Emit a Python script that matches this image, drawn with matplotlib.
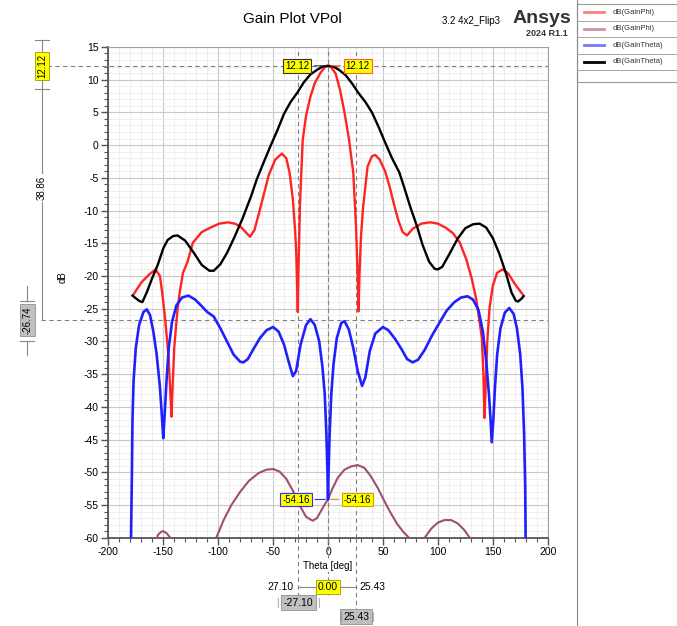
import numpy as np
import matplotlib
matplotlib.use("Agg")
import matplotlib.pyplot as plt
import matplotlib.transforms as mtransforms
from matplotlib.ticker import MultipleLocator

plt.rcParams['font.family'] = ['Liberation Sans', 'DejaVu Sans']
plt.rcParams['axes.unicode_minus'] = False

# dB(GainPhi) - co-pol, red
phi_theta = [-177, -170, -163, -160, -157, -153, -151, -148, -145, -143.5, -142.5, -141.5, -140, -137,
             -135, -132, -128, -123, -115, -107, -99, -91, -85, -80, -75, -71, -67, -63, -59, -54,
             -48, -42, -38, -35, -32, -30, -29, -28, -27.5, -27, -26.4, -25.5, -24, -23, -20, -16,
             -12, -7, -3, 0, 3, 7, 11, 15, 19, 23, 25.5, 27, 27.8, 28.6, 30, 32, 36, 40, 43, 47,
             52, 56, 60, 64, 68, 72, 77, 85, 93, 100, 107, 114, 120, 126, 131, 135, 138, 140,
             141.5, 142.5, 143.5, 145, 147, 150, 154, 159, 164, 170, 178]
phi_db = [-22.8, -21.0, -19.8, -19.4, -19.0, -20.0, -22.5, -27.0, -32.7, -38.0, -41.5, -37.0, -31.0, -25.1,
          -22.5, -19.5, -17.9, -14.9, -13.3, -12.6, -12.0, -11.8, -12.0, -12.4, -13.3, -14.0, -13.0, -10.5, -7.9, -4.6,
          -2.2, -1.3, -2.0, -4.2, -8.3, -13.0, -16.0, -22.0, -25.5, -20.0, -15.5, -9.0, -3.0, 0.8, 4.5, 7.4,
          9.5, 11.0, 11.9, 12.12, 11.9, 10.9, 8.4, 5.0, 1.0, -4.2, -12.4, -20.0, -25.4, -20.0, -14.0, -9.4, -3.3, -1.7, -1.5, -2.2,
          -4.0, -6.3, -9.0, -11.5, -13.3, -13.8, -12.8, -12.0, -11.8, -12.0, -12.6, -13.5, -14.9, -17.5, -20.5, -23.6, -27.0, -29.4,
          -35.0, -41.7, -37.0, -30.0, -25.0, -21.5, -19.5, -19.0, -19.6, -21.2, -23.0]

# dB(GainPhi) - cross, brown
phi2_theta = [-157, -155, -152, -150, -147, -144, -142, np.nan,
              -104, -101, -95, -88, -80, -72, -63, -56, -50, -44, -38, -32, -26, -20, -14, -10, -6, -3,
              0, 4, 9, 15, 21, 27, 33, 39, 45, 51, 57, 63, 69, 75, 77, np.nan,
              86, 88, 94, 100, 106, 112, 118, 124, 129, 131]
phi2_db = [-61, -59.6, -59.1, -59.0, -59.3, -59.9, -61, np.nan,
           -61, -59.7, -57.3, -55.0, -53.0, -51.3, -50.1, -49.6, -49.5, -49.9, -51.0, -52.8, -55.0, -56.8, -57.4, -57.0, -55.8, -54.9,
           -54.16, -52.5, -50.8, -49.6, -49.1, -48.9, -49.3, -50.6, -52.3, -54.3, -56.2, -57.9, -59.2, -60.2, -61, np.nan,
           -61, -60.0, -58.6, -57.7, -57.3, -57.3, -57.8, -58.8, -60.0, -61]

# dB(GainTheta) - blue
th_theta = [-179.5, -178.5, -178, -177, -175, -172, -168, -165, -162, -159, -156, -153, -151, -150, -149, -147,
            -145, -142, -138, -133, -127, -121, -115, -110, -104, -98, -92, -86, -80, -77, -73, -68, -62, -56,
            -50, -45, -40, -36, -32, -29, -25, -20, -16, -12, -8, -5, -3, -1.5, -0.5, 0, 0.5, 1.5, 3, 5, 8,
            12, 15, 19, 23, 27, 31, 34, 38, 43, 50, 55, 61, 67, 72, 77, 82, 88, 95, 102, 108, 115, 121, 127,
            132, 137, 141, 144, 146.5, 148, 149, 150.5, 152, 154, 157, 161, 165, 169, 172, 175, 177, 178.5,
            179.5, 180]
th_db = [-62, -50, -42, -36, -31, -27.5, -25.5, -25.1, -26.0, -28.5, -32.0, -37.0, -42.0, -44.8, -42.0, -36.0,
         -31.0, -27.0, -24.5, -23.3, -23.0, -23.6, -24.6, -25.5, -26.2, -28.0, -30.0, -32.0, -33.1, -33.2, -32.7, -31.2, -29.5, -28.3,
         -27.8, -28.5, -30.5, -33.0, -35.3, -34.5, -30.5, -27.5, -26.6, -27.5, -30.0, -34.0, -38.0, -44.0, -50.0, -54.16, -50.0, -44.0, -38.0, -33.5, -29.5,
         -27.2, -26.9, -28.2, -31.0, -34.5, -36.8, -35.5, -31.5, -28.8, -27.8, -28.3, -29.6, -31.2, -32.7, -33.2, -32.8, -31.3, -29.0, -27.0, -25.3, -24.0, -23.3, -23.1,
         -23.6, -25.2, -28.5, -33.0, -38.0, -42.0, -45.4, -42.0, -37.0, -32.0, -28.0, -25.6, -24.9, -25.8, -28.0, -32.0, -37.0, -44.0,
         -52.0, -62]

# dB(GainTheta) - black
th2_theta = [-178, -172, -169, -165, -160, -155, -150, -146, -141, -137, -130, -122, -115, -108, -104, -98, -92, -85,
             -78, -70, -65, -58, -52, -46, -40, -34, -28, -22, -16, -10, -5, 0, 5, 10, 16, 22, 28, 34, 40,
             46, 52, 58, 65, 70, 75, 81, 86, 92, 97, 100, 104, 110, 118, 125, 132, 138, 144, 150, 156, 162,
             167, 171, 173, 176, 178]
th2_db = [-23.0, -23.8, -24.0, -22.5, -20.3, -18.3, -15.8, -14.5, -13.9, -13.8, -14.6, -16.5, -18.3, -19.2, -19.2, -18.2, -16.5, -14.0,
          -11.3, -7.8, -5.3, -2.4, 0.0, 2.3, 4.8, 6.6, 8.0, 9.6, 10.8, 11.5, 12.0, 12.12, 12.0, 11.5, 10.7, 9.4, 7.9, 6.6, 5.0,
          2.8, 0.4, -1.9, -4.2, -6.8, -9.5, -12.4, -15.2, -17.8, -18.9, -19.0, -18.6, -16.8, -14.3, -12.7, -12.1, -12.0, -12.6, -14.2, -16.6, -19.6,
          -22.5, -23.8, -23.9, -23.5, -23.1]

labels = ["dB(GainPhi)", "dB(GainPhi)", "dB(GainTheta)", "dB(GainTheta)"]
colors = ["#ff2424", "#a0506a", "#2020ff", "#000000"]

fig = plt.figure(figsize=(6.77, 6.26), dpi=100)
ax = fig.add_axes([0.160, 0.141, 0.649, 0.784])

ax.plot(phi_theta, phi_db, color=colors[0], lw=1.7, zorder=4)
ax.plot(phi2_theta, phi2_db, color=colors[1], lw=1.5, zorder=3)
ax.plot(th_theta, th_db, color=colors[2], lw=1.9, zorder=5)
ax.plot(th2_theta, th2_db, color=colors[3], lw=1.7, zorder=4)

ax.set_xlim(-200, 200)
ax.set_ylim(-60, 15)
ax.xaxis.set_major_locator(MultipleLocator(50))
ax.xaxis.set_minor_locator(MultipleLocator(10))
ax.yaxis.set_major_locator(MultipleLocator(5))
ax.yaxis.set_minor_locator(MultipleLocator(1))
ax.grid(which='major', color='#c8c8c8', lw=0.8)
ax.grid(which='minor', color='#ececec', lw=0.6)
ax.set_axisbelow(True)
ax.tick_params(which='major', direction='out', length=5, width=1, color='#555555', labelsize=7.5, pad=2)
ax.tick_params(which='minor', direction='out', length=3, width=0.8, color='#555555')
for s in ['left', 'bottom']:
    ax.spines[s].set_color('#555555')
    ax.spines[s].set_linewidth(1.3)
for s in ['top', 'right']:
    ax.spines[s].set_color('#a0a0a0')
    ax.spines[s].set_linewidth(0.8)
ax.set_ylabel("dB", fontsize=7, labelpad=8)
ax.yaxis.set_label_coords(-0.093, 0.53)

# titles
fig.text(0.432, 0.970, "Gain Plot VPol", fontsize=11, ha='center', va='center')
fig.text(0.695, 0.966, "3.2 4x2_Flip3", fontsize=7, ha='center', va='center')
fig.text(0.800, 0.970, "Ansys", fontsize=14, fontweight='bold', ha='center', va='center', color='#333333')
fig.text(0.838, 0.947, "2024 R1.1", fontsize=6.5, fontweight='bold', ha='right', va='center', color='#333333')

# legend panel
fig.add_artist(plt.Line2D([0.853, 0.853], [0, 1], transform=fig.transFigure, color='#888888', lw=0.8))
row_h = 16.5 / 626
top = 1 - 4 / 626
fig.add_artist(plt.Rectangle((0.853, top - 4.7 * row_h), 0.2, 4.7 * row_h, transform=fig.transFigure,
                             fill=False, ec='#999999', lw=0.8))
for i, (lab, c) in enumerate(zip(labels, colors)):
    yc = top - (i + 0.5) * row_h
    fig.add_artist(plt.Line2D([0.862, 0.892], [yc, yc], transform=fig.transFigure, color=c, lw=2, alpha=0.6 if i < 3 else 1))
    fig.text(0.905, yc, lab, fontsize=5.5, va='center', ha='left', color='#333333')
    fig.add_artist(plt.Line2D([0.853, 1.0], [yc - 0.5 * row_h] * 2, transform=fig.transFigure, color='#999999', lw=0.6))

# marker lines inside the plot
dash = dict(color='#808080', lw=0.8, ls=(0, (4, 3)))
for xv in [-27.1, 0, 25.43]:
    ax.axvline(xv, **dash, zorder=2)

# left y markers
tl = mtransforms.blended_transform_factory(fig.transFigure, ax.transData)
ax.plot([0.070, 0.809], [12.12, 12.12], transform=tl, clip_on=False, **dash, zorder=2)
ax.plot([0.060, 0.809], [-26.74, -26.74], transform=tl, clip_on=False, **dash, zorder=2)
ax.plot([0.062, 0.062], [16.0, -26.74], transform=tl, clip_on=False, color='#888888', lw=0.8)
ax.plot([0.052, 0.072], [16.0, 16.0], transform=tl, clip_on=False, color='#888888', lw=0.8)
ax.plot([0.052, 0.072], [8.6, 8.6], transform=tl, clip_on=False, color='#888888', lw=0.8)
ax.text(0.062, 12.12, "12.12", transform=tl, rotation=90, fontsize=7, ha='center', va='center',
        bbox=dict(boxstyle='square,pad=0.2', fc='#ffff00', ec='#999900', lw=0.6))
ax.text(0.062, -6.5, "38.86", transform=tl, rotation=90, fontsize=7, ha='center', va='center',
        bbox=dict(boxstyle='square,pad=0.2', fc='white', ec='none'))
ax.plot([0.040, 0.040], [-23.8, -21.5], transform=tl, clip_on=False, color='#888888', lw=0.8)
ax.plot([0.030, 0.050], [-23.8, -23.8], transform=tl, clip_on=False, color='#888888', lw=0.8)
ax.plot([0.040, 0.040], [-29.9, -32.0], transform=tl, clip_on=False, color='#888888', lw=0.8)
ax.plot([0.030, 0.050], [-29.9, -29.9], transform=tl, clip_on=False, color='#888888', lw=0.8)
ax.text(0.040, -26.74, "-26.74", transform=tl, rotation=90, fontsize=7, ha='center', va='center',
        bbox=dict(boxstyle='square,pad=0.25', fc='#c0c0c0', ec='#909090', lw=0.6))

# bottom x markers
bt = mtransforms.blended_transform_factory(ax.transData, fig.transFigure)
ax.plot([-27.1, -27.1], [0.141, 0.045], transform=bt, clip_on=False, **dash)
ax.plot([0, 0], [0.141, 0.050], transform=bt, clip_on=False, **dash)
ax.plot([25.43, 25.43], [0.141, 0.022], transform=bt, clip_on=False, **dash)
ax.text(0, 0.096, "Theta [deg]", transform=bt, fontsize=7, ha='center', va='center',
        bbox=dict(boxstyle='square,pad=0.1', fc='white', ec='none'))
ax.plot([-27.1, 25.43], [0.062, 0.062], transform=bt, clip_on=False, color='#888888', lw=0.8)
ax.text(0, 0.062, "0.00", transform=bt, fontsize=7.5, ha='center', va='center',
        bbox=dict(boxstyle='square,pad=0.2', fc='#ffff00', ec='#999900', lw=0.6))
ax.text(-31, 0.062, "27.10", transform=bt, fontsize=7.5, ha='right', va='center')
ax.text(29, 0.062, "25.43", transform=bt, fontsize=7.5, ha='left', va='center')
ax.text(-27.1, 0.037, "-27.10", transform=bt, fontsize=7.5, ha='center', va='center',
        bbox=dict(boxstyle='square,pad=0.25', fc='#c0c0c0', ec='#909090', lw=0.6))
ax.text(-46, 0.037, "|", transform=bt, fontsize=7, ha='center', va='center', color='#888888')
ax.text(-8.5, 0.037, "|", transform=bt, fontsize=7, ha='center', va='center', color='#888888')
ax.text(25.43, 0.015, "25.43", transform=bt, fontsize=7.5, ha='center', va='center',
        bbox=dict(boxstyle='square,pad=0.25', fc='#c0c0c0', ec='#909090', lw=0.6))
ax.text(11, 0.015, "|", transform=bt, fontsize=7, ha='center', va='center', color='#888888')
ax.text(40, 0.015, "|", transform=bt, fontsize=7, ha='center', va='center', color='#888888')

# data markers inside the plot
def tag(x, y, tx, txt, ec):
    ax.annotate(txt, xy=(x, y), xytext=(tx, y), textcoords='data', fontsize=7, ha='center', va='center',
                bbox=dict(boxstyle='square,pad=0.2', fc='#ffff00', ec=ec, lw=0.8),
                arrowprops=dict(arrowstyle='-', color=ec, lw=0.8), zorder=6)

tag(0, 12.12, -28, "12.12", '#333333')
tag(0, 12.12, 27, "12.12", '#ff6020')
tag(0, -54.16, -29, "-54.16", '#3030ff')
tag(0, -54.16, 27, "-54.16", '#d0a000')

fig.savefig("out.png", dpi=100)
